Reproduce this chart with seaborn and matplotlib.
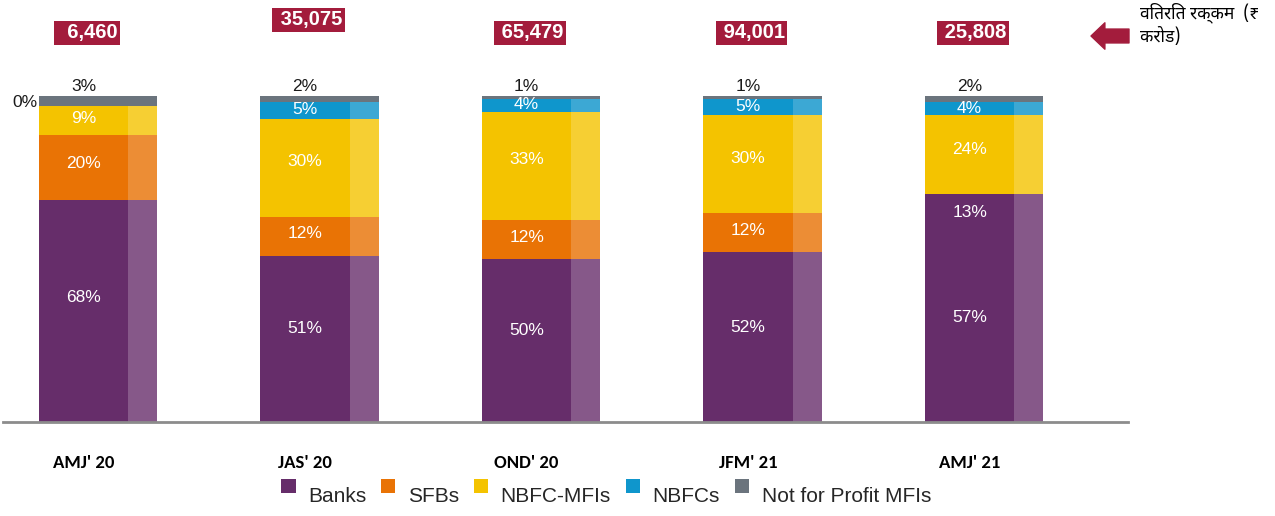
import matplotlib
matplotlib.use("Agg")
import matplotlib.pyplot as plt
import seaborn as sns
import pandas as pd
from matplotlib.patches import Patch, Rectangle
from matplotlib.legend_handler import HandlerPatch

# share of disbursement by lender type (%), per quarter
quarters = ["AMJ' 20", "JAS' 20", "OND' 20", "JFM' 21", "AMJ' 21"]
disbursed = ["6,460", "35,075", "65,479", "94,001", "25,808"]  # Rs crore
banks = [68, 51, 50, 52, 57]
sfbs = [20, 12, 12, 12, 13]
nbfc_mfis = [9, 30, 33, 30, 24]
nbfcs = [0, 5, 4, 5, 4]
not_for_profit = [3, 2, 1, 1, 2]

lenders = ["Banks", "SFBs", "NBFC-MFIs", "NBFCs", "Not for Profit MFIs"]
main_colors = ["#662D6A", "#E97305", "#F4C300", "#0F96CC", "#6B747D"]
side_colors = ["#865889", "#EC8D35", "#F6CF33", "#3CA8D4", "#6B747D"]
red = "#A31C3C"

# the source chart paints the AMJ'21 SFB block in the Banks colour
shown_as = {("SFBs", "AMJ' 21"): "Banks"}

df = pd.DataFrame({"Quarter": quarters, "Banks": banks, "SFBs": sfbs,
                   "NBFC-MFIs": nbfc_mfis, "NBFCs": nbfcs,
                   "Not for Profit MFIs": not_for_profit})
cum = df[lenders].cumsum(axis=1)
bottoms = cum - df[lenders]
cum["Quarter"] = quarters

sns.set_theme(style="white")
plt.rcParams["font.family"] = ["Liberation Sans", "DejaVu Sans"]

fig = plt.figure(figsize=(12.75, 5.16), dpi=100)
ax = fig.add_axes([3 / 1275, 94 / 516, 1125 / 1275, 422 / 516])

full_w, main_w = 0.535, 0.405
shift = (full_w - main_w) / 2

# stacked bars: draw cumulative totals from the top layer down,
# a lighter full-width bar and the darker front face on top of it
for k in reversed(range(len(lenders))):
    name = lenders[k]
    for width, colors, dx in [(full_w, side_colors, 0), (main_w, main_colors, -shift)]:
        n0 = len(ax.patches)
        sns.barplot(data=cum, x="Quarter", y=name, color=colors[k], width=width,
                    saturation=1, errorbar=None, ax=ax)
        for i, p in enumerate(ax.patches[n0:]):
            p.set_x(p.get_x() + dx)
            p.set_linewidth(0)
            alias = shown_as.get((name, quarters[i]))
            if alias:
                p.set_facecolor(colors[lenders.index(alias)])

# percentage labels
for i in range(len(quarters)):
    xc = i - shift
    for name in lenders[:4]:
        v = df.loc[i, name]
        if v == 0:
            ax.text(i - full_w / 2 - 0.005, 98, f"{v}%", ha="right", va="center",
                    fontsize=12.5, color="#1a1a1a")
            continue
        ax.text(xc, bottoms.loc[i, name] + 0.56 * v, f"{v}%", ha="center",
                va="center", fontsize=12.5, color="white")
    ax.text(xc, cum.loc[i, "Not for Profit MFIs"] + 3, f"{not_for_profit[i]}%",
            ha="center", va="center", fontsize=12.5, color="#1a1a1a")

# disbursed amount boxes
box_y = [119.3, 123.3, 119.3, 119.3, 119.3]
for i, amt in enumerate(disbursed):
    ax.text(i - 0.05, box_y[i], f" {amt:>6}", ha="center", va="center", fontsize=14.5,
            fontweight="bold", color="white",
            bbox=dict(boxstyle="square,pad=0.12", facecolor=red, edgecolor="none"))

ax.set_xlim(-0.429, 4.65)
ax.set_ylim(0, 129.4)
ax.set_xlabel("")
ax.set_ylabel("")
ax.set_yticks([])
ax.set_xticks([i - shift for i in range(len(quarters))])
ax.set_xticklabels(quarters, fontfamily=["Carlito", "Liberation Sans Narrow", "Liberation Sans"],
                   fontweight="bold", fontsize=13.5, color="black")
ax.tick_params(axis="x", length=0, pad=24)
for s in ["top", "left", "right"]:
    ax.spines[s].set_visible(False)
ax.spines["bottom"].set_color("#8c8c8c")
ax.spines["bottom"].set_linewidth(2)

# side note with arrow
ax.annotate("", xy=(1091 / 1275, 1 - 36 / 516), xytext=(1129 / 1275, 1 - 36 / 516),
            xycoords="figure fraction", textcoords="figure fraction",
            arrowprops=dict(arrowstyle="simple,head_length=0.5,head_width=0.95,tail_width=0.5",
                            mutation_scale=20, color=red, shrinkA=0, shrinkB=0))
fig.text(1140 / 1275, 1 - 2 / 516, "वितरित रक्कम  (₹\nकरोड)", ha="left", va="top",
         fontsize=12.5, linespacing=1.3, color="black",
         family=["Noto Sans Devanagari", "Anek Devanagari", "DejaVu Sans"])


# legend squares sit a little above the text line, as in the source
def raised_square(legend, orig_handle, xdescent, ydescent, width, height, fontsize):
    return Rectangle((-xdescent, -ydescent + 6), width, height)


handles = [Patch(facecolor=c, edgecolor="none", label=l) for c, l in zip(main_colors, lenders)]
fig.legend(handles=handles, loc="center", bbox_to_anchor=(606 / 1275, 20 / 516), ncol=5,
           frameon=False, fontsize=15, handlelength=0.7, handleheight=0.7,
           handletextpad=0.6, columnspacing=0.7,
           handler_map={Patch: HandlerPatch(patch_func=raised_square)})

fig.savefig("out.png", dpi=100)
